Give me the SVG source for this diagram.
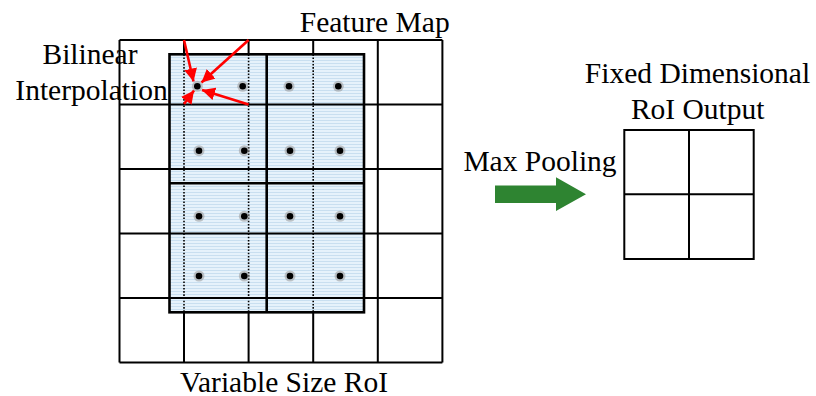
<svg xmlns="http://www.w3.org/2000/svg" width="816" height="396" viewBox="0 0 816 396">
  <style>
    .lbl { font-family: 'Liberation Serif', 'DejaVu Serif', 'Times New Roman', Times, serif; font-size: 29.5px; fill: #000; text-anchor: middle; }
    .grid { stroke: #000; stroke-width: 2; fill: none; }
    .dotted { stroke: #000; stroke-width: 1.6; stroke-dasharray: 1.6 1.6; fill: none; }
    .roi { stroke: #000; stroke-width: 2.6; fill: none; }
    .halo { fill: #9a9a9a; opacity: 0.55; }
    .pt { fill: #000; }
    .red { stroke: #ff0000; stroke-width: 2.6; fill: none; marker-end: url(#redHead); }
  </style>
  <defs>
    <pattern id="stripes" width="4" height="3" patternUnits="userSpaceOnUse">
      <rect width="4" height="3" fill="#e6f2fb"/>
      <rect width="4" height="1" fill="#c9dff0"/>
    </pattern>
    <marker id="redHead" viewBox="0 0 10 10" refX="10" refY="5" markerWidth="5" markerHeight="5" orient="auto" markerUnits="strokeWidth">
      <path d="M0,0 L10,5 L0,10 Z" fill="#ff0000"/>
    </marker>
  </defs>

  <!-- feature map grid: vertical lines -->
  <g id="feature-map">
    <path class="grid" d="M119.5,40V362.5 M184,40V362.5 M248.6,40V362.5 M313.2,40V362.5 M377.8,40V362.5 M442.4,40V362.5"/>
  </g>

  <!-- region of interest -->
  <g id="roi">
    <rect x="169.5" y="54.3" width="194.5" height="258" fill="url(#stripes)"/>
    <path class="dotted" d="M184,54.3V312.3 M248.6,54.3V312.3 M313.2,54.3V312.3"/>
    <path class="grid" d="M119.5,40H442.4 M119.5,104.5H442.4 M119.5,169H442.4 M119.5,233.5H442.4 M119.5,298H442.4 M119.5,362.5H442.4"/>
    <rect class="roi" x="169.5" y="54.3" width="194.5" height="258"/>
    <path class="roi" d="M266.7,54.3V312.3 M169.5,183.3H364"/>
  </g>

  <!-- sampling points -->
  <g id="samples">
    <g class="halo">
      <circle cx="197.3" cy="86.3" r="5.5"/><circle cx="242.7" cy="86.3" r="5.5"/><circle cx="289" cy="86.3" r="5.5"/><circle cx="338.3" cy="86.3" r="5.5"/>
      <circle cx="199" cy="150.7" r="5.5"/><circle cx="244.3" cy="150.7" r="5.5"/><circle cx="290" cy="150.7" r="5.5"/><circle cx="340" cy="150.7" r="5.5"/>
      <circle cx="199" cy="216.3" r="5.5"/><circle cx="244.3" cy="216.3" r="5.5"/><circle cx="290" cy="216.3" r="5.5"/><circle cx="340" cy="216.3" r="5.5"/>
      <circle cx="199" cy="276" r="5.5"/><circle cx="244.3" cy="276" r="5.5"/><circle cx="290" cy="276" r="5.5"/><circle cx="340" cy="276" r="5.5"/>
    </g>
    <g class="pt">
      <circle cx="197.3" cy="86.3" r="3.3"/><circle cx="242.7" cy="86.3" r="3.3"/><circle cx="289" cy="86.3" r="3.3"/><circle cx="338.3" cy="86.3" r="3.3"/>
      <circle cx="199" cy="150.7" r="3.3"/><circle cx="244.3" cy="150.7" r="3.3"/><circle cx="290" cy="150.7" r="3.3"/><circle cx="340" cy="150.7" r="3.3"/>
      <circle cx="199" cy="216.3" r="3.3"/><circle cx="244.3" cy="216.3" r="3.3"/><circle cx="290" cy="216.3" r="3.3"/><circle cx="340" cy="216.3" r="3.3"/>
      <circle cx="199" cy="276" r="3.3"/><circle cx="244.3" cy="276" r="3.3"/><circle cx="290" cy="276" r="3.3"/><circle cx="340" cy="276" r="3.3"/>
    </g>
  </g>

  <!-- bilinear interpolation arrows from the four neighbouring grid corners -->
  <g id="connectors">
    <path class="red" d="M184,40L193.5,81.5"/>
    <path class="red" d="M248.6,40L201.5,82.5"/>
    <path class="red" d="M248.6,104.5L202,90"/>
    <path class="red" d="M184,104L194,90.5"/>
  </g>

  <!-- pooling arrow -->
  <g id="pool-arrow">
    <path d="M495,185.5H556V177.3L586,194.3L556,211V203H495Z" fill="#2e8431"/>
  </g>

  <!-- fixed size output -->
  <g id="output">
    <rect class="grid" x="624.3" y="130" width="129.4" height="129"/>
    <path class="grid" d="M689,130V259 M624.3,194.3H753.7"/>
  </g>

  <g id="labels">
    <text class="lbl" x="374.7" y="31.5">Feature Map</text>
    <text class="lbl" x="90" y="64">Bilinear</text>
    <text class="lbl" x="91.5" y="100">Interpolation</text>
    <text class="lbl" x="284" y="391.5">Variable Size RoI</text>
    <text class="lbl" x="540" y="171">Max Pooling</text>
    <text class="lbl" x="697.5" y="83.3">Fixed Dimensional</text>
    <text class="lbl" x="697.7" y="119.3">RoI Output</text>
  </g>
</svg>
